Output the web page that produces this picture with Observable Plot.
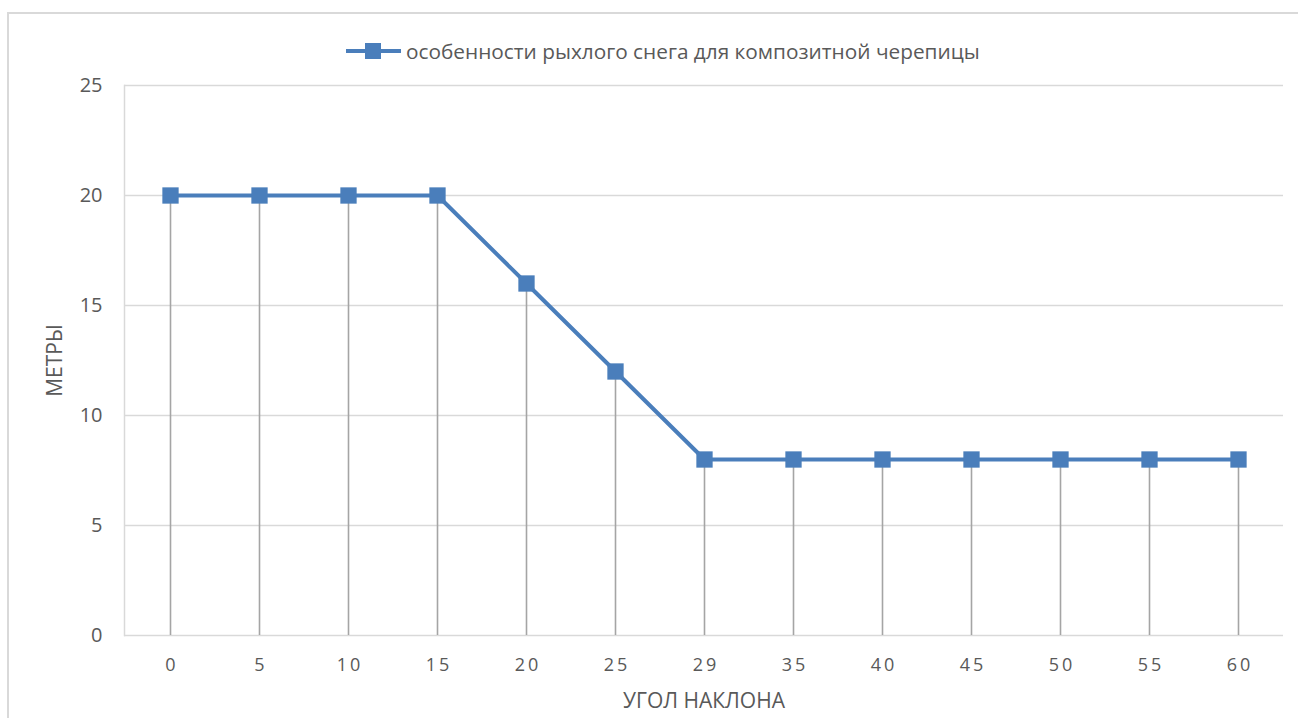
<!DOCTYPE html>
<html>
<head>
<meta charset="utf-8">
<script src="https://cdn.jsdelivr.net/npm/d3@7"></script>
<script src="https://cdn.jsdelivr.net/npm/@observablehq/plot@0.6"></script>
<style>
  html, body { margin: 0; padding: 0; background: #fff; }
  #wrap { position: relative; width: 1298px; height: 718px; overflow: hidden; font-family: "Open Sans", sans-serif; }
  #border { position: absolute; left: 7px; top: 12px; right: -5px; bottom: -5px; border-left: 2px solid #d9d9d9; border-top: 2px solid #d9d9d9; }
  #legend { position: absolute; top: 37px; left: 345px; height: 28px; display: flex; align-items: center; font-size: 20.8px; color: #595959; white-space: nowrap; }
  #legend svg { margin-right: 3px; }
  #chart { position: absolute; left: 0; top: 0; }
</style>
</head>
<body>
<div id="wrap">
  <div id="border"></div>
  <div id="chart"></div>
  <div id="legend"></div>
</div>
<script>
const seriesName = "особенности рыхлого снега для композитной черепицы";
const categories = ["0", "5", "10", "15", "20", "25", "29", "35", "40", "45", "50", "55", "60"];
const values = [20, 20, 20, 20, 16, 12, 8, 8, 8, 8, 8, 8, 8];
const yTicks = [0, 5, 10, 15, 20, 25];
const xTitle = "УГОЛ НАКЛОНА";
const yTitle = "МЕТРЫ";

const blue = "#4a7ebb";
const data = categories.map((c, i) => ({cat: c, v: values[i]}));

const chart = Plot.plot({
  width: 1298,
  height: 718,
  marginLeft: 124,
  marginRight: 15,
  marginTop: 85,
  marginBottom: 83,
  style: {fontFamily: "Open Sans, sans-serif", background: "transparent", overflow: "visible"},
  x: {type: "point", domain: categories, padding: 0.5},
  y: {domain: [0, 25]},
  marks: [
    Plot.ruleY(yTicks, {stroke: "#d9d9d9", strokeWidth: 1.5}),
    Plot.frame({anchor: "left", stroke: "#d9d9d9", strokeWidth: 1.5}),
    Plot.ruleX(data, {x: "cat", y1: 0, y2: "v", stroke: "#a5a5a5", strokeWidth: 1.6}),
    Plot.line(data, {x: "cat", y: "v", stroke: blue, strokeWidth: 4}),
    Plot.dot(data, {x: "cat", y: "v", symbol: "square", r: 9.2, fill: blue, stroke: "none"}),
    Plot.axisY({ticks: yTicks, tickSize: 0, tickPadding: 22, fontSize: 20, fill: "#595959", label: yTitle, labelAnchor: "center", labelOffset: 77, labelArrow: "none"}),
    Plot.axisX({tickSize: 0, tickPadding: 23, fontSize: 18, fill: "#595959", dx: 1.5, label: xTitle, labelAnchor: "center", labelOffset: 72, labelArrow: "none"})
  ]
});
document.getElementById("chart").appendChild(chart);

const svg = d3.select(chart);
svg.selectAll("[aria-label='x-axis tick label'] text").style("letter-spacing", "3px");
svg.selectAll("[aria-label='x-axis label'], [aria-label='y-axis label']").attr("font-size", "21px").attr("fill", "#595959");
svg.selectAll("[aria-label='x-axis label'] text, [aria-label='y-axis label'] text").style("font-size", "21px").style("fill", "#595959");

// legend
const leg = d3.select("#legend");
const ls = leg.append("svg").attr("width", 58).attr("height", 20);
ls.append("line").attr("x1", 1).attr("x2", 56).attr("y1", 10).attr("y2", 10).attr("stroke", blue).attr("stroke-width", 4);
ls.append("rect").attr("x", 20).attr("y", 2).attr("width", 16).attr("height", 16).attr("fill", blue);
leg.append("span").text(seriesName);
</script>
</body>
</html>
